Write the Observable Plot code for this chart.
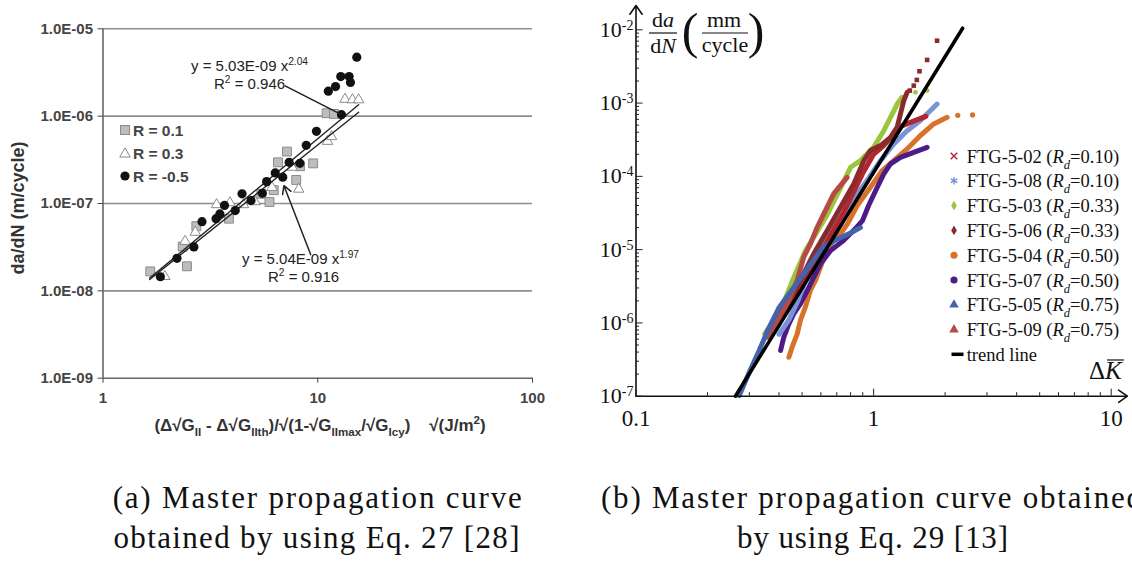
<!DOCTYPE html>
<html><head><meta charset="utf-8">
<script src="https://cdn.jsdelivr.net/npm/d3@7"></script>
<script src="https://cdn.jsdelivr.net/npm/@observablehq/plot@0.6"></script>
<style>
body{margin:0;background:#fff;}
#wrap{position:relative;width:1132px;height:562px;overflow:hidden;background:#fff;}
#left{position:absolute;left:0;top:0;}
#right{position:absolute;left:560px;top:0;}
#cap{position:absolute;left:0;top:0;pointer-events:none;}
</style></head><body>
<div id="wrap"><div id="left"></div><div id="right"></div><svg id="cap" width="1132" height="562"></svg></div>
<script>
// ---------- LEFT PANEL DATA ----------
const leftYTicks = [1e-9, 1e-8, 1e-7, 1e-6, 1e-5];
const leftYTickLabels = ["1.0E-09", "1.0E-08", "1.0E-07", "1.0E-06", "1.0E-05"];
const leftXTicks = [1, 10, 100];
const leftXTickLabels = ["1", "10", "100"];

const r01X = [1.66, 2.35, 2.46, 2.72, 3.86, 5.46, 5.96, 6.24, 6.53, 7.19, 7.94, 8.26, 9.52, 11.0, 11.9];
const r01Y = [1.67e-8, 3.21e-8, 1.91e-8, 5.5e-8, 6.7e-8, 1.29e-7, 1.04e-7, 1.42e-7, 2.96e-7, 3.93e-7, 1.86e-7, 2.67e-7, 2.88e-7, 1.08e-6, 1.06e-6];
const r03X = [1.94, 2.41, 2.69, 3.38, 3.90, 4.51, 5.10, 6.12, 7.60, 8.16, 11.1, 11.6, 13.4, 14.5, 15.5];
const r03Y = [1.46e-8, 3.69e-8, 4.68e-8, 9.7e-8, 1.02e-7, 9.7e-8, 1.05e-7, 1.53e-7, 2.6e-7, 1.46e-7, 5.15e-7, 5.83e-7, 1.56e-6, 1.54e-6, 1.54e-6];
const rm05X = [1.85, 2.21, 2.65, 2.89, 3.36, 3.50, 3.68, 4.13, 4.44, 4.89, 5.52, 5.78, 6.34, 6.87, 7.36, 8.26, 8.84, 9.86, 12.9, 11.2, 12.1, 12.8, 14.0, 14.2, 15.2];
const rm05Y = [1.45e-8, 2.36e-8, 3.18e-8, 6.2e-8, 6.7e-8, 7.6e-8, 9.5e-8, 8.3e-8, 1.29e-7, 1.08e-7, 1.31e-7, 1.78e-7, 2.24e-7, 2.0e-7, 2.96e-7, 2.88e-7, 4.64e-7, 6.7e-7, 1.04e-6, 1.93e-6, 2.18e-6, 2.84e-6, 2.84e-6, 2.43e-6, 4.73e-6];

// fitted power lines (end points)
const fitAX = [1.65, 15.5], fitAY = [1.40e-8, 1.35e-6];  // y = 5.03E-09 x^2.04
const fitBX = [1.65, 15.5], fitBY = [1.35e-8, 1.11e-6];  // y = 5.04E-09 x^1.97
// leader line and arrow of the annotations
const leaderX = [7.01, 12.9], leaderY = [2.24e-6, 1.04e-6];
const arrowX = [9.27, 6.96], arrowY = [2.6e-8, 1.6e-7];

const leftLegend = ["R = 0.1", "R = 0.3", "R = -0.5"];

// ---------- RIGHT PANEL DATA ----------
const rightYMajor = [1e-7, 1e-6, 1e-5, 1e-4, 1e-3, 1e-2];
const rightYLabels = ["10^-7", "10^-6", "10^-5", "10^-4", "10^-3", "10^-2"];
const rightXMajor = [0.1, 1, 10];
const rightXLabels = ["0.1", "1", "10"];

const s04X = [0.440,0.454,0.477,0.492,0.516,0.542,0.569,0.597,0.628,0.670,0.726,0.780,0.853,0.970,1.087,1.216,1.384,1.574,1.791,2.04];
const s04Y = [3.4e-7,4.66e-7,7.1e-7,1.08e-6,1.64e-6,2.77e-6,3.79e-6,5.75e-6,8.77e-6,1.26e-5,1.64e-5,2.3e-5,4.0e-5,7.1e-5,1.20e-4,1.64e-4,2.37e-4,3.61e-4,5.2e-4,6.4e-4];
const s04DotX = [2.26, 2.61], s04DotY = [6.8e-4, 6.9e-4];

const s07X = [0.406,0.419,0.440,0.461,0.492,0.526,0.560,0.598,0.659,0.747,0.839,0.898,0.953,1.036,1.104,1.178,1.297,1.476,1.68];
const s07Y = [4.2e-7,6.4e-7,9.7e-7,1.33e-6,1.82e-6,2.77e-6,4.2e-6,6.4e-6,9.7e-6,1.33e-5,1.94e-5,2.49e-5,4.0e-5,7.1e-5,1.08e-4,1.48e-4,1.82e-4,2.13e-4,2.49e-4];

const s08X = [0.400,0.440,0.480,0.520,0.571,0.681,0.813,0.939,1.069,1.216,1.384,1.574,1.85];
const s08Y = [7.0e-7,1.1e-6,2.0e-6,4.0e-6,8.8e-6,2.02e-5,4.7e-5,8.8e-5,1.64e-4,2.77e-4,4.2e-4,5.8e-4,9.7e-4];

const s05X = [0.272,0.302,0.330,0.361,0.401,0.462,0.532,0.571,0.613,0.706,0.813,0.880];
const s05Y = [1.02e-7,2.24e-7,4.2e-7,8.3e-7,1.64e-6,3.07e-6,5.75e-6,7.9e-6,1.08e-5,1.40e-5,1.73e-5,2.0e-5];

const s02X = [0.42,0.50,0.60,0.75,0.90,1.00,1.10,1.30,1.50,1.66];
const s02Y = [1.3e-6,3.5e-6,9.0e-6,3.3e-5,1.1e-4,2.0e-4,2.6e-4,4.8e-4,5.8e-4,6.6e-4];

const s03X = [0.348,0.406,0.462,0.517,0.571,0.634,0.706,0.800,0.881,1.00,1.104,1.178,1.257,1.318];
const s03Y = [7.1e-7,1.48e-6,4.2e-6,9.7e-6,1.64e-5,2.9e-5,5.8e-5,1.33e-4,1.64e-4,2.49e-4,4.2e-4,6.4e-4,9.7e-4,1.2e-3];
const s03DotX = [1.50, 1.68], s03DotY = [1.40e-3, 1.48e-3];

const s06X = [0.368,0.433,0.492,0.560,0.638,0.726,0.826,0.910,0.970,1.069,1.178,1.257,1.297,1.340,1.384];
const s06Y = [8.7e-7,1.82e-6,3.8e-6,8.8e-6,1.82e-5,3.8e-5,7.9e-5,1.64e-4,2.25e-4,2.63e-4,3.4e-4,4.7e-4,7.1e-4,1.08e-3,1.40e-3];
const s06DotX = [1.42, 1.476, 1.52, 1.56, 1.68, 1.85];
const s06DotY = [1.48e-3, 1.73e-3, 2.07e-3, 2.72e-3, 3.88e-3, 7.1e-3];

const s09X = [0.356,0.393,0.433,0.477,0.508,0.542,0.579,0.617,0.680,0.774];
const s09Y = [6.4e-7,1.08e-6,1.82e-6,3.8e-6,7.9e-6,1.2e-5,2.02e-5,3.08e-5,5.8e-5,9.7e-5];

const trendX = [0.262, 2.37], trendY = [1.0e-7, 1.05e-2];

const legendNames = ["FTG-5-02","FTG-5-08","FTG-5-03","FTG-5-06","FTG-5-04","FTG-5-07","FTG-5-05","FTG-5-09"];
const legendRd = ["0.10","0.10","0.33","0.33","0.50","0.50","0.75","0.75"];
const legendColors = ["#b3262f","#7a93d6","#9cc43c","#8a2b2b","#d8722b","#4b1c85","#4563ad","#b64a44"];
const legendSymbols = ["times","asterisk","diamond","diamond","circle","circle","triangle","triangle"];

// ---------- helpers ----------
const zip = (xs, ys) => xs.map((x, i) => ({x, y: ys[i]}));
function rich(sel, parts, size) {
  let shift = 0;
  parts.forEach(([t, k]) => {
    const kind = k || "";
    const target = kind.includes("sub") ? Math.round(size * 0.3) : kind.includes("sup") ? -Math.round(size * 0.4) : 0;
    const ts = sel.append("tspan").attr("dy", target - shift).text(t);
    if (kind.includes("sub") || kind.includes("sup")) ts.attr("font-size", (size * 0.68).toFixed(1));
    if (kind.includes("i")) ts.attr("font-style", "italic");
    shift = target;
  });
}

// ---------- LEFT PLOT ----------
const left = Plot.plot({
  width: 560, height: 460,
  marginLeft: 102.5, marginRight: 28, marginTop: 28.3, marginBottom: 82.3,
  x: {type: "log", domain: [1, 100]},
  y: {type: "log", domain: [1e-9, 1e-5]},
  style: {fontFamily: "Liberation Sans, Arial, sans-serif", background: "transparent", overflow: "visible"},
  marks: [
    Plot.ruleY(leftYTicks.slice(1), {stroke: "#8e8e8e", strokeWidth: 1.6}),
    Plot.ruleY([1e-9], {stroke: "#666", strokeWidth: 1.6}),
    Plot.ruleX([1], {stroke: "#666", strokeWidth: 1.6}),
    Plot.axisY(leftYTicks, {tickSize: 5, tickPadding: 5, color: "#444", fontSize: 15, label: null,
      tickFormat: d => leftYTickLabels[leftYTicks.indexOf(d)]}),
    Plot.axisX(leftXTicks, {tickSize: 5, tickPadding: 9, color: "#444", fontSize: 15, label: null,
      tickFormat: d => leftXTickLabels[leftXTicks.indexOf(d)]}),
    Plot.dot(zip(r01X, r01Y), {x: "x", y: "y", symbol: "square", r: 5, fill: "#bdbdbd", stroke: "#8a8a8a", strokeWidth: 1}),
    Plot.dot(zip(r03X, r03Y), {x: "x", y: "y", symbol: "triangle", r: 3.9, fill: "#fff", stroke: "#8a8a8a", strokeWidth: 1}),
    Plot.line(zip(fitAX, fitAY), {x: "x", y: "y", stroke: "#222", strokeWidth: 1.4}),
    Plot.line(zip(fitBX, fitBY), {x: "x", y: "y", stroke: "#222", strokeWidth: 1.4}),
    Plot.dot(zip(rm05X, rm05Y), {x: "x", y: "y", r: 4.6, fill: "#111", stroke: "none"}),
    Plot.link([0], {x1: () => leaderX[0], y1: () => leaderY[0], x2: () => leaderX[1], y2: () => leaderY[1], stroke: "#222", strokeWidth: 1.5}),
    Plot.arrow([0], {x1: () => arrowX[0], y1: () => arrowY[0], x2: () => arrowX[1], y2: () => arrowY[1], stroke: "#222", strokeWidth: 1.5, headLength: 9})
  ]
});
document.getElementById("left").appendChild(left);
{
  const s = d3.select(left);
  s.selectAll('g[aria-label="y-axis tick label"] text, g[aria-label="x-axis tick label"] text')
    .attr("font-weight", "bold");
  // y title
  s.append("text").attr("transform", "translate(18,208) rotate(-90)").attr("text-anchor", "middle")
    .attr("dy", "0.35em").attr("font-size", 18).attr("font-weight", "bold").attr("fill", "#333")
    .text("da/dN (m/cycle)");
  // x title
  const xt = s.append("text").attr("x", 320).attr("y", 431).attr("text-anchor", "middle")
    .attr("font-size", 17).attr("font-weight", "bold").attr("fill", "#333");
  rich(xt, [["(Δ√G"],["II","sub"],[" - Δ√G"],["IIth","sub"],[")/√(1-√G"],["IImax","sub"],["/√G"],["Icy","sub"],[")\u00a0\u00a0\u00a0\u00a0√(J/m"],["2","sup"],[")"]], 17);
  // legend
  const lg = s.append("g").attr("font-size", 15.5).attr("font-weight", "bold").attr("fill", "#444").attr("text-anchor", "start");
  const ly = [130, 153, 176];
  lg.append("rect").attr("x", 120.5).attr("y", ly[0] - 4.5).attr("width", 9).attr("height", 9).attr("fill", "#bdbdbd").attr("stroke", "#8a8a8a");
  lg.append("path").attr("d", d3.symbol(d3.symbolTriangle, 48)()).attr("transform", `translate(125,${ly[1] + 1})`).attr("fill", "#fff").attr("stroke", "#8a8a8a");
  lg.append("circle").attr("cx", 125).attr("cy", ly[2]).attr("r", 4.6).attr("fill", "#111");
  leftLegend.forEach((t, i) => lg.append("text").attr("x", 133).attr("y", ly[i] + 5.5).text(t));
  // annotations
  const an = s.append("g").attr("font-size", 15).attr("fill", "#222").attr("text-anchor", "start");
  rich(an.append("text").attr("x", 191).attr("y", 71), [["y = 5.03E-09 x"],["2.04","sup"]], 15);
  rich(an.append("text").attr("x", 214).attr("y", 89), [["R"],["2","sup"],[" = 0.946"]], 15);
  rich(an.append("text").attr("x", 242).attr("y", 264), [["y = 5.04E-09 x"],["1.97","sup"]], 15);
  rich(an.append("text").attr("x", 268).attr("y", 282), [["R"],["2","sup"],[" = 0.916"]], 15);
}

// ---------- RIGHT PLOT ----------
const yMinor = [], xMinor = [];
for (let e = -7; e < -2; e++) for (let m = 2; m <= 9; m++) yMinor.push(m * Math.pow(10, e));
for (let e = -1; e < 1; e++) for (let m = 2; m <= 9; m++) xMinor.push(m * Math.pow(10, e));
const yArrowTop = 0.0215, xArrowEnd = 11.7;

const series = [
  [s04X, s04Y, legendColors[4]],
  [s07X, s07Y, legendColors[5]],
  [s08X, s08Y, legendColors[1]],
  [s02X, s02Y, legendColors[0]],
  [s03X, s03Y, legendColors[2]],
  [s06X, s06Y, legendColors[3]],
  [s09X, s09Y, legendColors[7]],
  [s05X, s05Y, legendColors[6]]
];

const right = Plot.plot({
  width: 572, height: 460,
  marginLeft: 75.5, marginRight: 21.3, marginTop: 29.3, marginBottom: 64.3,
  x: {type: "log", domain: [0.1, 10]},
  y: {type: "log", domain: [1e-7, 1e-2]},
  style: {fontFamily: "Liberation Serif, Times New Roman, serif", background: "transparent", overflow: "visible", color: "#111"},
  marks: [
    ...series.map(([xs, ys, c]) => Plot.line(zip(xs, ys), {x: "x", y: "y", stroke: c, strokeWidth: 5, strokeLinecap: "round", strokeLinejoin: "round"})),
    Plot.dot(zip(s04DotX, s04DotY), {x: "x", y: "y", r: 2.6, fill: legendColors[4]}),
    Plot.dot(zip(s03DotX, s03DotY), {x: "x", y: "y", r: 2.4, fill: legendColors[2]}),
    Plot.dot(zip(s06DotX, s06DotY), {x: "x", y: "y", symbol: "square", r: 2.6, fill: legendColors[3]}),
    Plot.line(zip(trendX, trendY), {x: "x", y: "y", stroke: "#000", strokeWidth: 3.6}),
    Plot.arrow([0], {x1: () => 0.1, y1: () => 1e-7, x2: () => 0.1, y2: () => yArrowTop, stroke: "#111", strokeWidth: 1.6, headLength: 10, headAngle: 70}),
    Plot.arrow([0], {x1: () => 0.1, y1: () => 1e-7, x2: () => xArrowEnd, y2: () => 1e-7, stroke: "#111", strokeWidth: 1.6, headLength: 10, headAngle: 70}),
    Plot.axisY(yMinor, {tickSize: -3.5, tickFormat: () => "", label: null, color: "#222"}),
    Plot.axisY(rightYMajor, {tickSize: -7, tickFormat: () => "", label: null, color: "#222"}),
    Plot.axisY(rightYMajor, {tickSize: 0, tickPadding: 2.5, fontSize: 22, label: null, color: "#111",
      tickFormat: d => rightYLabels[rightYMajor.indexOf(d)]}),
    Plot.axisX(xMinor, {tickSize: -3.5, tickFormat: () => "", label: null, color: "#222"}),
    Plot.axisX(rightXMajor, {tickSize: -7, tickFormat: () => "", label: null, color: "#222"}),
    Plot.axisX(rightXMajor, {tickSize: 0, tickPadding: 13, fontSize: 23, label: null, color: "#111",
      tickFormat: d => rightXLabels[rightXMajor.indexOf(d)]})
  ]
});
document.getElementById("right").appendChild(right);
{
  const s = d3.select(right);
  s.selectAll('g[aria-label="y-axis tick label"] text').each(function () {
    const t = this.textContent;
    if (!t.includes("^")) return;
    const [b, e] = t.split("^");
    const el = d3.select(this); el.text(null);
    el.append("tspan").text(b);
    el.append("tspan").attr("dy", "-0.5em").attr("font-size", 14).text(e);
  });
  const g = s.append("g").attr("font-family", "Liberation Serif, Times New Roman, serif").attr("fill", "#111");
  // y title: da/dN (mm/cycle)
  rich(g.append("text").attr("x", 103).attr("y", 27).attr("text-anchor", "middle").attr("font-size", 22), [["d"],["a","i"]], 22);
  g.append("line").attr("x1", 89).attr("x2", 117).attr("y1", 33).attr("y2", 33).attr("stroke", "#111").attr("stroke-width", 1.2);
  rich(g.append("text").attr("x", 103).attr("y", 53).attr("text-anchor", "middle").attr("font-size", 22), [["d"],["N","i"]], 22);
  g.append("text").attr("x", 130).attr("y", 48).attr("text-anchor", "middle").attr("font-size", 50).attr("font-weight", 200).text("(");
  g.append("text").attr("x", 196).attr("y", 48).attr("text-anchor", "middle").attr("font-size", 50).attr("font-weight", 200).text(")");
  g.append("text").attr("x", 164).attr("y", 27).attr("text-anchor", "middle").attr("font-size", 22).text("mm");
  g.append("line").attr("x1", 142).attr("x2", 188).attr("y1", 33).attr("y2", 33).attr("stroke", "#111").attr("stroke-width", 1.2);
  g.append("text").attr("x", 165).attr("y", 52).attr("text-anchor", "middle").attr("font-size", 22).text("cycle");
  // x title ΔK̄
  const kt = g.append("text").attr("x", 529).attr("y", 379).attr("font-size", 25).attr("text-anchor", "start");
  kt.append("tspan").text("Δ");
  kt.append("tspan").attr("font-style", "italic").text("K");
  g.append("line").attr("x1", 547).attr("x2", 564).attr("y1", 360).attr("y2", 360).attr("stroke", "#111").attr("stroke-width", 1.2);
  // legend
  const symMap = {times: d3.symbolTimes, asterisk: d3.symbolAsterisk, diamond: d3.symbolDiamond, circle: d3.symbolCircle, triangle: d3.symbolTriangle};
  const symSize = {times: 30, asterisk: 40, diamond: 28, circle: 40, triangle: 40};
  const lg = g.append("g").attr("text-anchor", "start");
  legendNames.forEach((n, i) => {
    const y = 156 + i * 24.8;
    const sym = legendSymbols[i];
    const isLine = sym === "times" || sym === "asterisk";
    lg.append("path").attr("d", d3.symbol(symMap[sym], symSize[sym])())
      .attr("transform", `translate(394,${y})`)
      .attr("fill", isLine ? "none" : legendColors[i])
      .attr("stroke", isLine ? legendColors[i] : "none").attr("stroke-width", 1.4);
    const t = lg.append("text").attr("x", 406.7).attr("y", y + 6.5).attr("font-size", 18.5);
    rich(t, [[n + " ("], ["R", "i"], ["d", "isub"], ["=" + legendRd[i] + ")"]], 18.5);
  });
  lg.append("line").attr("x1", 391.5).attr("x2", 403.5).attr("y1", 354.3).attr("y2", 354.3).attr("stroke", "#000").attr("stroke-width", 3.5);
  lg.append("text").attr("x", 406.7).attr("y", 360.5).attr("font-size", 18.5).text("trend line");
}

// ---------- CAPTIONS ----------
{
  const c = d3.select("#cap").append("g").attr("font-family", "Liberation Serif, Times New Roman, serif")
    .attr("font-size", 31).attr("fill", "#111");
  const cap = [
    ["(a) Master propagation curve", 112.7, 508, 409],
    ["obtained by using Eq. 27 [28]", 113.5, 548, 406],
    ["(b) Master propagation curve obtained", 601, 508, 541],
    ["by using Eq. 29 [13]", 737, 548, 271]
  ];
  cap.forEach(([t, x, y, w]) => c.append("text").attr("x", x).attr("y", y)
    .attr("textLength", w).attr("lengthAdjust", "spacing").text(t));
}
</script></body></html>
